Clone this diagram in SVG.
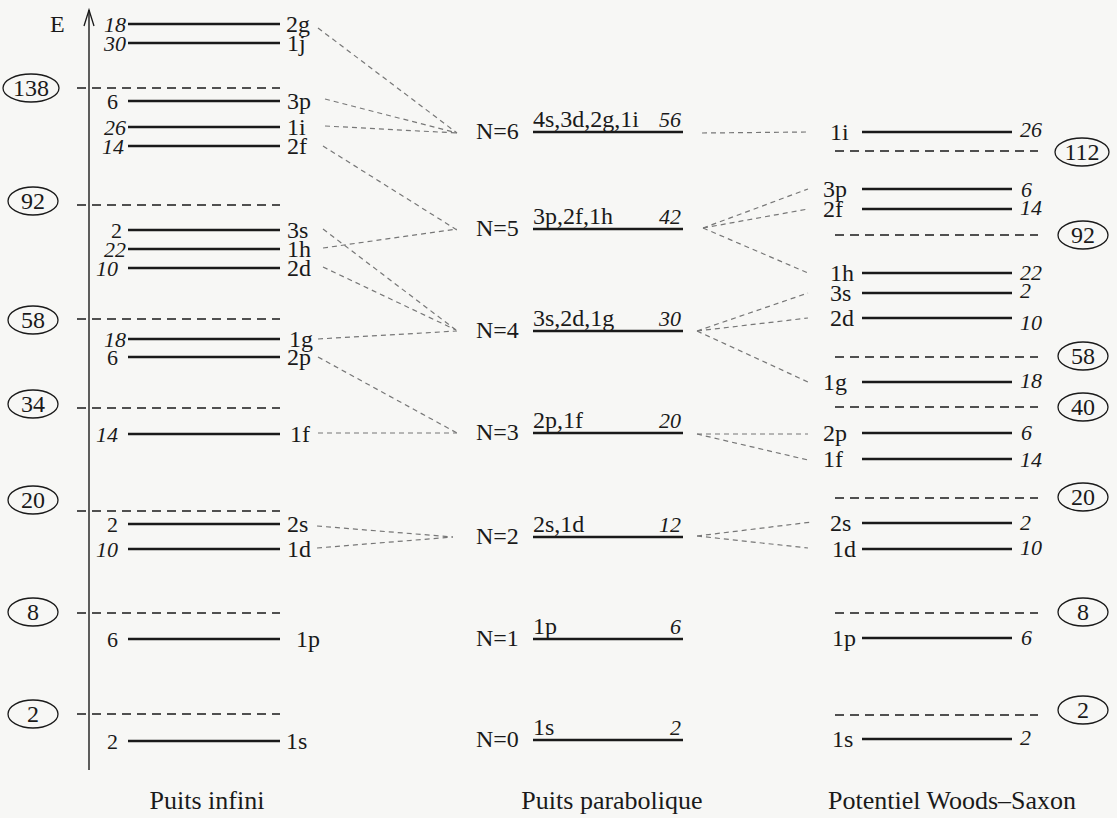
<svg xmlns="http://www.w3.org/2000/svg" width="1117" height="818" viewBox="0 0 1117 818">
  <style>
    text { font-family: "Liberation Serif", "Times New Roman", serif; fill: #1a1a1a; }
    .lab { font-size: 24px; }
    .num { font-size: 22px; font-style: italic; }
    .numu { font-size: 22px; }
    .cap { font-size: 26px; }
    .magic { font-size: 24px; text-anchor: middle; }
    .lvl { stroke: #1a1a1a; stroke-width: 2.6; }
    .gap { stroke: #1a1a1a; stroke-width: 1.4; stroke-dasharray: 9 6; }
    .ring { fill: none; stroke: #1a1a1a; stroke-width: 1.3; }
    .link { stroke: #777; stroke-width: 1.2; stroke-dasharray: 5 4; fill: none; }
  </style>

  <rect width="1117" height="818" fill="#f7f7f5"/>

  <!-- Energy axis -->
  <g id="axis">
    <line x1="89" y1="10" x2="89" y2="770" stroke="#1a1a1a" stroke-width="1.4"/>
    <polyline points="84,26 89,10 94,26" fill="none" stroke="#1a1a1a" stroke-width="1.3"/>
    <text class="lab" x="50" y="32">E</text>
  </g>

  <!-- Infinite well -->
  <g id="infinite-well">
    <g id="iw-2g"><line class="lvl" x1="128" y1="24" x2="280" y2="24"/><text class="num" x="126" y="32" text-anchor="end">18</text><text class="lab" x="286" y="32">2g</text></g>
    <g id="iw-1j"><line class="lvl" x1="128" y1="43" x2="280" y2="43"/><text class="num" x="126" y="51" text-anchor="end">30</text><text class="lab" x="287" y="51">1j</text></g>
    <g id="iw-gap-138"><line class="gap" x1="77" y1="88" x2="280" y2="88"/><ellipse class="ring" cx="31" cy="88" rx="28" ry="14"/><text class="magic" x="31" y="96">138</text></g>
    <g id="iw-3p"><line class="lvl" x1="128" y1="101" x2="280" y2="101"/><text class="numu" x="118" y="109" text-anchor="end">6</text><text class="lab" x="287" y="109">3p</text></g>
    <g id="iw-1i"><line class="lvl" x1="128" y1="127" x2="280" y2="127"/><text class="num" x="126" y="135" text-anchor="end">26</text><text class="lab" x="287" y="135">1i</text></g>
    <g id="iw-2f"><line class="lvl" x1="128" y1="146" x2="280" y2="146"/><text class="num" x="124" y="154" text-anchor="end">14</text><text class="lab" x="287" y="154">2f</text></g>
    <g id="iw-gap-92"><line class="gap" x1="77" y1="205" x2="280" y2="205"/><ellipse class="ring" cx="33" cy="201" rx="25" ry="14"/><text class="magic" x="33" y="209">92</text></g>
    <g id="iw-3s"><line class="lvl" x1="128" y1="230" x2="280" y2="230"/><text class="numu" x="122" y="238" text-anchor="end">2</text><text class="lab" x="287" y="238">3s</text></g>
    <g id="iw-1h"><line class="lvl" x1="128" y1="249" x2="280" y2="249"/><text class="num" x="126" y="257" text-anchor="end">22</text><text class="lab" x="287" y="257">1h</text></g>
    <g id="iw-2d"><line class="lvl" x1="128" y1="268" x2="280" y2="268"/><text class="num" x="118" y="276" text-anchor="end">10</text><text class="lab" x="287" y="276">2d</text></g>
    <g id="iw-gap-58"><line class="gap" x1="77" y1="319" x2="280" y2="319"/><ellipse class="ring" cx="33" cy="320" rx="25" ry="14"/><text class="magic" x="33" y="328">58</text></g>
    <g id="iw-1g"><line class="lvl" x1="128" y1="339" x2="280" y2="339"/><text class="num" x="126" y="347" text-anchor="end">18</text><text class="lab" x="289" y="347">1g</text></g>
    <g id="iw-2p"><line class="lvl" x1="128" y1="357" x2="280" y2="357"/><text class="numu" x="118" y="365" text-anchor="end">6</text><text class="lab" x="287" y="365">2p</text></g>
    <g id="iw-gap-34"><line class="gap" x1="77" y1="408" x2="280" y2="408"/><ellipse class="ring" cx="33" cy="404" rx="25" ry="14"/><text class="magic" x="33" y="412">34</text></g>
    <g id="iw-1f"><line class="lvl" x1="128" y1="434" x2="280" y2="434"/><text class="num" x="118" y="442" text-anchor="end">14</text><text class="lab" x="290" y="442">1f</text></g>
    <g id="iw-gap-20"><line class="gap" x1="77" y1="511" x2="280" y2="511"/><ellipse class="ring" cx="33" cy="500" rx="25" ry="14"/><text class="magic" x="33" y="508">20</text></g>
    <g id="iw-2s"><line class="lvl" x1="128" y1="524" x2="280" y2="524"/><text class="numu" x="118" y="532" text-anchor="end">2</text><text class="lab" x="287" y="532">2s</text></g>
    <g id="iw-1d"><line class="lvl" x1="128" y1="549" x2="280" y2="549"/><text class="num" x="118" y="557" text-anchor="end">10</text><text class="lab" x="287" y="557">1d</text></g>
    <g id="iw-gap-8"><line class="gap" x1="77" y1="613" x2="280" y2="613"/><ellipse class="ring" cx="33" cy="612" rx="25" ry="14"/><text class="magic" x="33" y="620">8</text></g>
    <g id="iw-1p"><line class="lvl" x1="128" y1="639" x2="280" y2="639"/><text class="numu" x="118" y="647" text-anchor="end">6</text><text class="lab" x="296" y="647">1p</text></g>
    <g id="iw-gap-2"><line class="gap" x1="77" y1="714" x2="280" y2="714"/><ellipse class="ring" cx="33" cy="714" rx="25" ry="14"/><text class="magic" x="33" y="722">2</text></g>
    <g id="iw-1s"><line class="lvl" x1="128" y1="741" x2="280" y2="741"/><text class="numu" x="118" y="749" text-anchor="end">2</text><text class="lab" x="286" y="749">1s</text></g>
    <text class="cap" x="207" y="809" text-anchor="middle">Puits infini</text>
  </g>

  <!-- Harmonic (parabolic) well -->
  <g id="parabolic-well">
    <g id="hw-N6"><text class="lab" x="476" y="139">N=6</text><line class="lvl" x1="533" y1="132" x2="683" y2="132"/><text class="lab" x="533" y="127">4s,3d,2g,1i</text><text class="num" x="681" y="127" text-anchor="end">56</text></g>
    <g id="hw-N5"><text class="lab" x="476" y="236">N=5</text><line class="lvl" x1="533" y1="229" x2="683" y2="229"/><text class="lab" x="533" y="224">3p,2f,1h</text><text class="num" x="681" y="224" text-anchor="end">42</text></g>
    <g id="hw-N4"><text class="lab" x="476" y="338">N=4</text><line class="lvl" x1="533" y1="331" x2="683" y2="331"/><text class="lab" x="533" y="326">3s,2d,1g</text><text class="num" x="681" y="326" text-anchor="end">30</text></g>
    <g id="hw-N3"><text class="lab" x="476" y="440">N=3</text><line class="lvl" x1="533" y1="433" x2="683" y2="433"/><text class="lab" x="533" y="428">2p,1f</text><text class="num" x="681" y="428" text-anchor="end">20</text></g>
    <g id="hw-N2"><text class="lab" x="476" y="544">N=2</text><line class="lvl" x1="533" y1="537" x2="683" y2="537"/><text class="lab" x="533" y="532">2s,1d</text><text class="num" x="681" y="532" text-anchor="end">12</text></g>
    <g id="hw-N1"><text class="lab" x="476" y="646">N=1</text><line class="lvl" x1="533" y1="639" x2="683" y2="639"/><text class="lab" x="533" y="634">1p</text><text class="num" x="681" y="634" text-anchor="end">6</text></g>
    <g id="hw-N0"><text class="lab" x="476" y="747">N=0</text><line class="lvl" x1="533" y1="740" x2="683" y2="740"/><text class="lab" x="533" y="735">1s</text><text class="num" x="681" y="735" text-anchor="end">2</text></g>
    <text class="cap" x="612" y="809" text-anchor="middle">Puits parabolique</text>
  </g>

  <!-- Woods-Saxon potential -->
  <g id="woods-saxon">
    <g id="ws-1i"><text class="lab" x="830" y="140">1i</text><line class="lvl" x1="862" y1="132" x2="1012" y2="132"/><text class="num" x="1020" y="137">26</text></g>
    <g id="ws-gap-112"><line class="gap" x1="835" y1="151" x2="1038" y2="151"/><ellipse class="ring" cx="1082" cy="152" rx="27" ry="14"/><text class="magic" x="1082" y="160">112</text></g>
    <g id="ws-3p"><text class="lab" x="823" y="197">3p</text><line class="lvl" x1="862" y1="189" x2="1012" y2="189"/><text class="num" x="1021" y="197">6</text></g>
    <g id="ws-2f"><text class="lab" x="823" y="217">2f</text><line class="lvl" x1="862" y1="209" x2="1012" y2="209"/><text class="num" x="1020" y="215">14</text></g>
    <g id="ws-gap-92"><line class="gap" x1="835" y1="235" x2="1038" y2="235"/><ellipse class="ring" cx="1083" cy="235" rx="25" ry="14"/><text class="magic" x="1083" y="243">92</text></g>
    <g id="ws-1h"><text class="lab" x="830" y="281">1h</text><line class="lvl" x1="862" y1="273" x2="1012" y2="273"/><text class="num" x="1020" y="280">22</text></g>
    <g id="ws-3s"><text class="lab" x="830" y="301">3s</text><line class="lvl" x1="862" y1="293" x2="1012" y2="293"/><text class="num" x="1020" y="298">2</text></g>
    <g id="ws-2d"><text class="lab" x="830" y="326">2d</text><line class="lvl" x1="862" y1="318" x2="1012" y2="318"/><text class="num" x="1020" y="330">10</text></g>
    <g id="ws-gap-58"><line class="gap" x1="835" y1="357" x2="1038" y2="357"/><ellipse class="ring" cx="1083" cy="356" rx="25" ry="14"/><text class="magic" x="1083" y="364">58</text></g>
    <g id="ws-1g"><text class="lab" x="823" y="390">1g</text><line class="lvl" x1="862" y1="382" x2="1012" y2="382"/><text class="num" x="1020" y="388">18</text></g>
    <g id="ws-gap-40"><line class="gap" x1="835" y1="407" x2="1038" y2="407"/><ellipse class="ring" cx="1083" cy="407" rx="25" ry="14"/><text class="magic" x="1083" y="415">40</text></g>
    <g id="ws-2p"><text class="lab" x="823" y="441">2p</text><line class="lvl" x1="862" y1="433" x2="1012" y2="433"/><text class="num" x="1021" y="440">6</text></g>
    <g id="ws-1f"><text class="lab" x="823" y="467">1f</text><line class="lvl" x1="862" y1="459" x2="1012" y2="459"/><text class="num" x="1020" y="467">14</text></g>
    <g id="ws-gap-20"><line class="gap" x1="835" y1="498" x2="1038" y2="498"/><ellipse class="ring" cx="1083" cy="497" rx="25" ry="14"/><text class="magic" x="1083" y="505">20</text></g>
    <g id="ws-2s"><text class="lab" x="830" y="531">2s</text><line class="lvl" x1="862" y1="523" x2="1012" y2="523"/><text class="num" x="1020" y="530">2</text></g>
    <g id="ws-1d"><text class="lab" x="832" y="557">1d</text><line class="lvl" x1="862" y1="549" x2="1012" y2="549"/><text class="num" x="1020" y="555">10</text></g>
    <g id="ws-gap-8"><line class="gap" x1="835" y1="613" x2="1038" y2="613"/><ellipse class="ring" cx="1083" cy="612" rx="25" ry="14"/><text class="magic" x="1083" y="620">8</text></g>
    <g id="ws-1p"><text class="lab" x="832" y="646">1p</text><line class="lvl" x1="862" y1="638" x2="1012" y2="638"/><text class="num" x="1021" y="645">6</text></g>
    <g id="ws-gap-2"><line class="gap" x1="835" y1="715" x2="1038" y2="715"/><ellipse class="ring" cx="1083" cy="710" rx="25" ry="14"/><text class="magic" x="1083" y="718">2</text></g>
    <g id="ws-1s"><text class="lab" x="832" y="747">1s</text><line class="lvl" x1="862" y1="739" x2="1012" y2="739"/><text class="num" x="1020" y="745">2</text></g>
    <text class="cap" x="952" y="809" text-anchor="middle">Potentiel Woods–Saxon</text>
  </g>

  <!-- Correspondence links between the three spectra -->
  <g id="connectors">
    <!-- infinite well to N shells -->
    <line class="link" x1="318" y1="28" x2="457" y2="133"/>
    <line class="link" x1="325" y1="99" x2="457" y2="133"/>
    <line class="link" x1="325" y1="126" x2="457" y2="133"/>
    <line class="link" x1="323" y1="146" x2="457" y2="230"/>
    <line class="link" x1="323" y1="248" x2="457" y2="229"/>
    <line class="link" x1="323" y1="229" x2="456" y2="330"/>
    <line class="link" x1="323" y1="267" x2="456" y2="330"/>
    <line class="link" x1="318" y1="339" x2="457" y2="331"/>
    <line class="link" x1="318" y1="357" x2="457" y2="433"/>
    <line class="link" x1="318" y1="433" x2="457" y2="433"/>
    <line class="link" x1="317" y1="526" x2="453" y2="537"/>
    <line class="link" x1="317" y1="548" x2="453" y2="537"/>
    <!-- N shells to Woods-Saxon levels -->
    <line class="link" x1="702" y1="133" x2="808" y2="132"/>
    <line class="link" x1="703" y1="228" x2="808" y2="189"/>
    <line class="link" x1="703" y1="228" x2="808" y2="209"/>
    <line class="link" x1="703" y1="228" x2="808" y2="273"/>
    <line class="link" x1="697" y1="331" x2="808" y2="293"/>
    <line class="link" x1="697" y1="331" x2="808" y2="318"/>
    <line class="link" x1="697" y1="331" x2="808" y2="382"/>
    <line class="link" x1="697" y1="434" x2="808" y2="434"/>
    <line class="link" x1="697" y1="434" x2="808" y2="460"/>
    <line class="link" x1="697" y1="536" x2="812" y2="522"/>
    <line class="link" x1="697" y1="536" x2="808" y2="548"/>
  </g>
</svg>
